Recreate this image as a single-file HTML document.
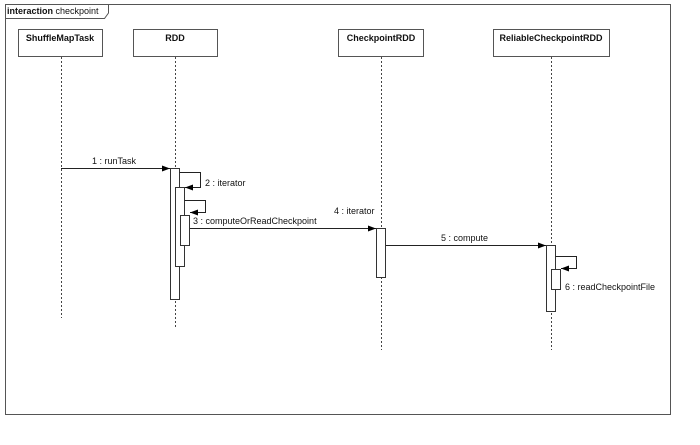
<!DOCTYPE html>
<html><head><style>body{margin:0;background:#fff}svg{display:block}text{font-family:"Liberation Sans",sans-serif;font-size:9px;fill:#111}</style></head><body>
<svg width="700" height="445" viewBox="0 0 700 445">
<defs><marker id="a" markerWidth="8" markerHeight="6" refX="8" refY="3" orient="auto" markerUnits="userSpaceOnUse"><path d="M0,0L8,3L0,6z" fill="#000"/></marker></defs>
<rect x="5.5" y="4.5" width="665" height="410" fill="none" stroke="#555"/>
<path d="M5.5,18.5H104.5L108.5,13V4.5" fill="none" stroke="#555"/>
<text x="7" y="14"><tspan font-weight="bold">interaction</tspan> checkpoint</text>
<g fill="#fff" stroke="#555">
<rect x="18.5" y="29.5" width="84" height="27"/>
<rect x="133.5" y="29.5" width="84" height="27"/>
<rect x="338.5" y="29.5" width="85" height="27"/>
<rect x="493.5" y="29.5" width="116" height="27"/>
</g>
<g font-weight="bold" text-anchor="middle">
<text x="60" y="41" font-weight="bold">ShuffleMapTask</text>
<text x="175" y="41" font-weight="bold">RDD</text>
<text x="381" y="41" font-weight="bold">CheckpointRDD</text>
<text x="551" y="41" font-weight="bold">ReliableCheckpointRDD</text>
</g>
<g stroke="#444" stroke-dasharray="2,2">
<line x1="61.5" y1="57" x2="61.5" y2="318"/>
<line x1="175.5" y1="57" x2="175.5" y2="327"/>
<line x1="381.5" y1="57" x2="381.5" y2="350"/>
<line x1="551.5" y1="57" x2="551.5" y2="350"/>
</g>
<g fill="#fff" stroke="#333">
<rect x="170.5" y="168.5" width="9" height="131"/>
<rect x="175.5" y="187.5" width="9" height="79"/>
<rect x="180.5" y="215.5" width="9" height="30"/>
<rect x="376.5" y="228.5" width="9" height="49"/>
<rect x="546.5" y="245.5" width="9" height="66"/>
<rect x="551.5" y="269.5" width="9" height="20"/>
</g>
<g stroke="#222" fill="none" marker-end="url(#a)">
<line x1="61" y1="168.5" x2="170" y2="168.5"/>
<path d="M179.5,172.5H200.5V187.5H185"/>
<path d="M184.5,200.5H205.5V212.5H190"/>
<line x1="190" y1="228.5" x2="376" y2="228.5"/>
<line x1="386" y1="245.5" x2="546" y2="245.5"/>
<path d="M555.5,256.5H576.5V268.5H561"/>
</g>
<text x="92" y="164">1 : runTask</text>
<text x="205" y="186">2 : iterator</text>
<text x="193" y="224">3 : computeOrReadCheckpoint</text>
<text x="334" y="214">4 : iterator</text>
<text x="441" y="241">5 : compute</text>
<text x="565" y="290">6 : readCheckpointFile</text>
</svg>
</body></html>
